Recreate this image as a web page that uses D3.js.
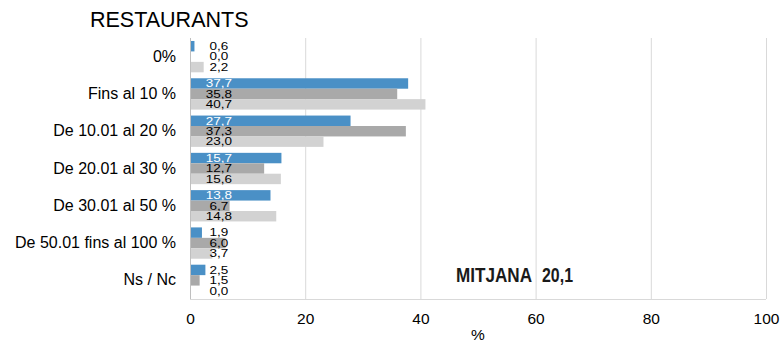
<!DOCTYPE html>
<html><head><meta charset="utf-8">
<script src="https://cdn.jsdelivr.net/npm/d3@7"></script>
<style>body{margin:0;background:#fff}svg{display:block}text{font-family:"Liberation Sans",Arial,sans-serif}</style>
</head><body><svg id="c" width="780" height="343"></svg>
<script>
const categories = ["0%", "Fins al 10 %", "De 10.01 al 20 %", "De 20.01 al 30 %", "De 30.01 al 50 %", "De 50.01 fins al 100 %", "Ns / Nc"];
const seriesA = [0.6, 37.7, 27.7, 15.7, 13.8, 1.9, 2.5];
const seriesB = [0.0, 35.8, 37.3, 12.7, 6.7, 6.0, 1.5];
const seriesC = [2.2, 40.7, 23.0, 15.6, 14.8, 3.7, 0.0];
const xTicks = [0, 20, 40, 60, 80, 100];
const title = "RESTAURANTS";
const axisTitle = "%";
const meanLabel = "MITJANA";
const meanValue = "20,1";

const series = [
  {key: "A", values: seriesA, color: "#4a90c6"},
  {key: "B", values: seriesB, color: "#a9a9a9"},
  {key: "C", values: seriesC, color: "#d2d2d2"}
];
const fmt = v => v.toFixed(1).replace(".", ",");

const svg = d3.select("#c");
const m = {l: 190, r: 14, t: 38, b: 44};
const W = 780, H = 343;
const x = d3.scaleLinear().domain([0, 100]).range([m.l, W - m.r]);
const y = d3.scaleBand().domain(categories).range([m.t, H - m.b]).paddingInner(0.16).paddingOuter(0.08);
const ys = d3.scaleBand().domain(series.map(s => s.key)).range([0, y.bandwidth()]);

// gridlines
svg.append("g").selectAll("line").data(xTicks).join("line")
  .attr("x1", d => x(d) + 0.5).attr("x2", d => x(d) + 0.5)
  .attr("y1", m.t).attr("y2", H - m.b)
  .attr("stroke", "#d9d9d9").attr("stroke-width", 1);
svg.append("line").attr("x1", m.l).attr("x2", W - m.r)
  .attr("y1", H - m.b + 0.5).attr("y2", H - m.b + 0.5).attr("stroke", "#d9d9d9");
svg.append("line").attr("x1", m.l + 0.5).attr("x2", m.l + 0.5)
  .attr("y1", m.t).attr("y2", H - m.b).attr("stroke", "#bfbfbf");

// x axis labels
const xa = svg.append("g").attr("transform", `translate(0,${H - m.b})`)
  .call(d3.axisBottom(x).tickValues(xTicks).tickSize(0).tickPadding(0));
xa.select(".domain").remove();
xa.selectAll("text").attr("font-size", 15.5).attr("fill", "#000")
  .attr("dy", null).attr("y", 25)
  .attr("font-family", "Liberation Sans, Arial, sans-serif");

svg.append("text").attr("x", x(50)).attr("y", 340).attr("text-anchor", "middle")
  .attr("font-size", 15.5).text(axisTitle);

// y axis labels
const ya = svg.append("g").attr("transform", `translate(${m.l},0)`)
  .call(d3.axisLeft(y).tickSize(0).tickPadding(14));
ya.select(".domain").remove();
ya.selectAll("text").attr("font-size", 16).attr("fill", "#000").attr("font-family", "Liberation Sans, Arial, sans-serif");

// bars
const labelX = x(5);
series.forEach(s => {
  const g = svg.append("g");
  g.selectAll("rect").data(categories).join("rect")
    .attr("x", x(0) + 1)
    .attr("y", c => y(c) + ys(s.key))
    .attr("width", (c, i) => Math.max(0, x(s.values[i]) - x(0)))
    .attr("height", ys.bandwidth())
    .attr("fill", s.color);
  g.selectAll("text").data(categories).join("text")
    .attr("transform", c => `translate(${labelX},${y(c) + ys(s.key) + ys.bandwidth() / 2 + 3.8}) scale(1,0.8)`)
    .attr("text-anchor", "middle")
    .attr("font-size", 13.5)
    .attr("fill", (c, i) => (s.key === "A" && x(s.values[i]) > labelX + 14) ? "#fff" : "#000")
    .text((c, i) => fmt(s.values[i]));
});

// title
svg.append("text").attr("x", 90).attr("y", 27).attr("font-size", 21.5).text(title);

// mean
svg.append("text").attr("x", 456).attr("y", 282).attr("font-size", 20)
  .attr("font-weight", "bold").attr("fill", "#1a1a1a")
  .attr("textLength", 76).attr("lengthAdjust", "spacingAndGlyphs").text(meanLabel);
svg.append("text").attr("x", 542).attr("y", 282).attr("font-size", 20)
  .attr("font-weight", "bold").attr("fill", "#1a1a1a")
  .attr("textLength", 31).attr("lengthAdjust", "spacingAndGlyphs").text(meanValue);
</script></body></html>
